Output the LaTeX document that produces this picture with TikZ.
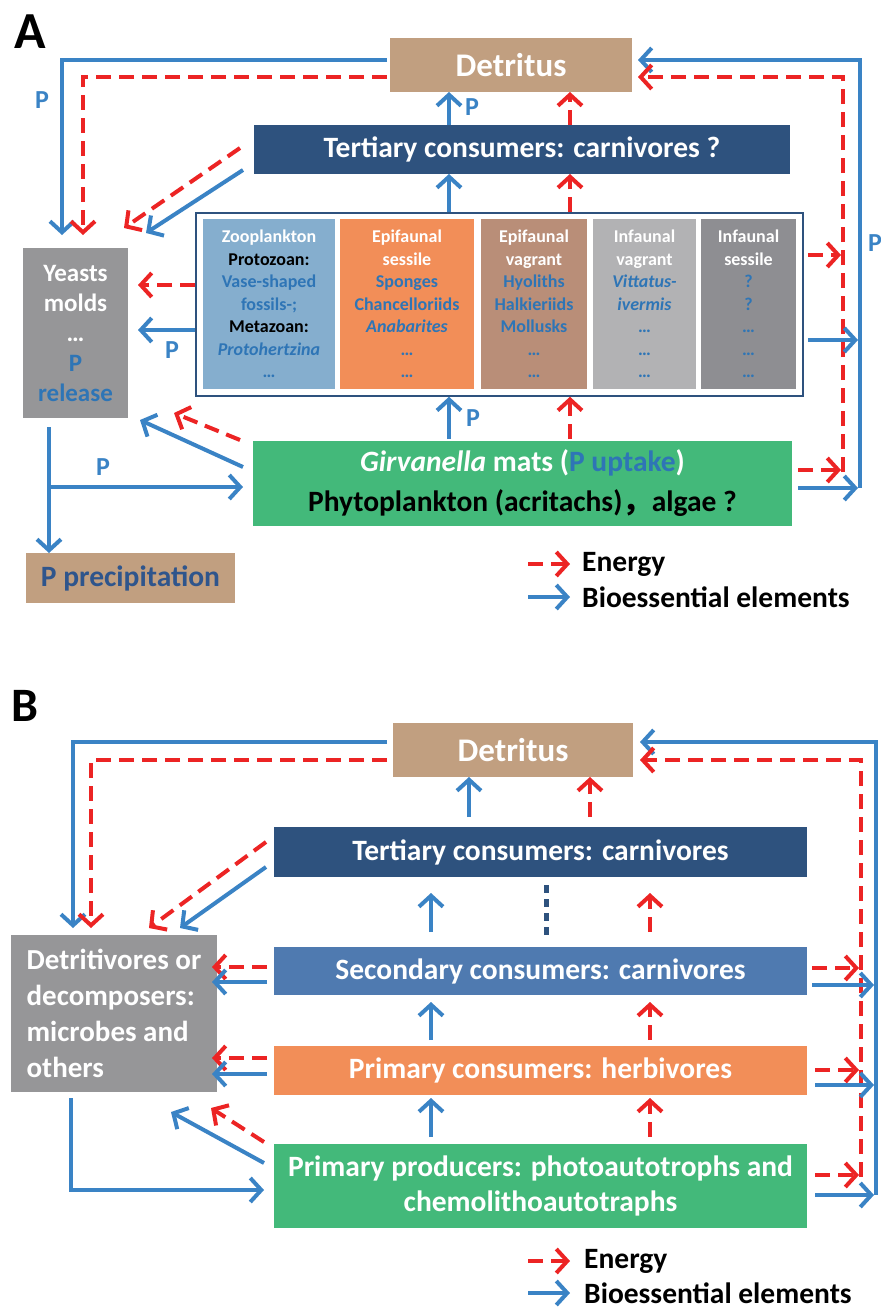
\documentclass[tikz,border=0pt]{standalone}
\usepackage{fontspec}
\setmainfont{Carlito}
\newfontfamily\cjkfont{Noto Sans CJK SC}
\usetikzlibrary{arrows.meta}
\definecolor{cBlue}{RGB}{58,131,197}
\definecolor{cRed}{RGB}{236,36,36}
\definecolor{cDet}{RGB}{193,159,128}
\definecolor{cTer}{RGB}{46,82,126}
\definecolor{cSec}{RGB}{79,122,176}
\definecolor{cGray}{RGB}{150,150,152}
\definecolor{cC1}{RGB}{133,174,206}
\definecolor{cC2}{RGB}{242,142,88}
\definecolor{cC3}{RGB}{185,142,120}
\definecolor{cC4}{RGB}{178,178,180}
\definecolor{cC5}{RGB}{142,142,146}
\definecolor{cGreen}{RGB}{67,185,122}
\definecolor{cTxt}{RGB}{46,117,182}
\definecolor{cPtxt}{RGB}{47,85,140}
\newcommand\fs[2]{\fontsize{#1pt}{#2pt}\selectfont\bfseries}
\begin{document}
\begin{tikzpicture}[x=1pt,y=-1pt,
  bx/.style={inner sep=0pt, outer sep=0pt, text=white, align=center},
  colbox/.style={bx, minimum height=170pt, font=\fs{18}{22.5}},
  bl/.style={draw=cBlue, line width=4pt, -{Straight Barb[length=11pt,width=24pt]}},
  rd/.style={draw=cRed, line width=4pt, dash pattern=on 15pt off 8pt, -{Straight Barb[length=11pt,width=24pt]}},
  lbl/.style={text=cBlue, font=\fs{26}{28}, inner sep=0pt},
  leg/.style={anchor=west, inner sep=0pt, font=\fs{29.5}{32}},
]
\useasboundingbox (0,0) rectangle (881,1310);

% ================= Panel A =================
\node[font=\fs{52}{56}, inner sep=0pt] (labA) at (30,32) {A};
\node[bx, fill=cDet, minimum width=242pt, minimum height=54pt, font=\fs{33}{38}] (detA) at (511,65) {Detritus};
\node[bx, fill=cTer, minimum width=536pt, minimum height=49pt, font=\fs{29.5}{32}] (terA) at (522,149.5) {Tertiary consumers: carnivores ?};
\node[draw=cTer, line width=1.5pt, fill=white, minimum width=607pt, minimum height=183pt, inner sep=0pt] (frA) at (499.5,304.5) {};
\node[colbox, fill=cC1, minimum width=132pt] (c1A) at (269,304) {Zooplankton\\\textcolor{black}{Protozoan:}\\\textcolor{cTxt}{Vase-shaped}\\\textcolor{cTxt}{fossils-;}\\\textcolor{black}{Metazoan:}\\\textcolor{cTxt}{\textit{Protohertzina}}\\\textcolor{cTxt}{…}};
\node[colbox, fill=cC2, minimum width=134pt] (c2A) at (407,304) {Epifaunal\\sessile\\\textcolor{cTxt}{Sponges}\\\textcolor{cTxt}{Chancelloriids}\\\textcolor{cTxt}{\textit{Anabarites}}\\\textcolor{cTxt}{…}\\\textcolor{cTxt}{…}};
\node[colbox, fill=cC3, minimum width=106pt] (c3A) at (534,304) {Epifaunal\\vagrant\\\textcolor{cTxt}{Hyoliths}\\\textcolor{cTxt}{Halkieriids}\\\textcolor{cTxt}{Mollusks}\\\textcolor{cTxt}{…}\\\textcolor{cTxt}{…}};
\node[colbox, fill=cC4, minimum width=103pt] (c4A) at (644.5,304) {Infaunal\\vagrant\\\textcolor{cTxt}{\textit{Vittatus-}}\\\textcolor{cTxt}{\textit{ivermis}}\\\textcolor{cTxt}{…}\\\textcolor{cTxt}{…}\\\textcolor{cTxt}{…}};
\node[colbox, fill=cC5, minimum width=95pt] (c5A) at (748.5,304) {Infaunal\\sessile\\\textcolor{cTxt}{?}\\\textcolor{cTxt}{?}\\\textcolor{cTxt}{…}\\\textcolor{cTxt}{…}\\\textcolor{cTxt}{…}};
\node[bx, fill=cGray, minimum width=105pt, minimum height=170pt, font=\fs{25}{30}] (yeA) at (75.5,333) {Yeasts\\molds\\…\\\textcolor{cTxt}{P}\\\textcolor{cTxt}{release}};
\node[bx, fill=cGreen, minimum width=539pt, minimum height=85pt, font=\fs{29.5}{40}] (grA) at (522.5,483) {\textit{Girvanella} mats (\textcolor{cTxt}{P uptake})\\\textcolor{black}{Phytoplankton (acritachs){\cjkfont ，}algae ?}};
\node[bx, fill=cDet, minimum width=209pt, minimum height=50pt, text=cPtxt, font=\fs{29.5}{32}] (ppA) at (130.5,578) {P precipitation};

% connectors A
\draw[bl] ([xshift=-3pt,yshift=5pt]detA.west) -| ([xshift=-13.5pt,yshift=13pt]yeA.north);
\draw[rd] ([xshift=-3pt,yshift=-12pt]detA.west) -| ([xshift=7.5pt,yshift=13pt]yeA.north);
\node[lbl] (pA1) at (42,100) {P};
\draw[rd] ([xshift=-14pt,yshift=1.5pt]terA.west) -- ([xshift=-4pt,yshift=20pt]yeA.north east);
\draw[bl] ([xshift=-11pt,yshift=-20.5pt]terA.west) -- ([xshift=18pt,yshift=15pt]yeA.north east);
\draw[bl] ([xshift=-73pt]terA.north) -- ([xshift=-62pt]detA.south);
\node[lbl] (pA2) at (472,107) {P};
\draw[rd] ([xshift=48pt]terA.north) -- ([xshift=59pt]detA.south);
\draw[bl] ([xshift=-50.5pt]frA.north) -- ([xshift=-73pt]terA.south);
\draw[rd] ([xshift=70.5pt]frA.north) -- ([xshift=48pt]terA.south);
\draw[bl] ([xshift=-73.5pt,yshift=1.5pt]grA.north) -- ([xshift=-50.5pt]frA.south);
\node[lbl] (pA3) at (473,418) {P};
\draw[rd] ([xshift=47.5pt,yshift=1.5pt]grA.north) -- ([xshift=70.5pt]frA.south);
\draw[rd] ([yshift=19.5pt]frA.west) -- ([xshift=10pt,yshift=48pt]yeA.east);
\draw[bl] ([yshift=-25.5pt]frA.west) -- ([xshift=10pt,yshift=3pt]yeA.east);
\node[lbl] (pA4) at (172,350) {P};
\draw[bl] ([xshift=-10pt,yshift=16pt]grA.west) -- ([xshift=12pt,yshift=-2pt]yeA.south east);
\draw[rd] ([xshift=-13pt,yshift=0.5pt]grA.north west) -- ([xshift=46pt,yshift=5pt]yeA.south east);
\coordinate (brA) at (49,487);
\draw[bl] ([xshift=-26.5pt,yshift=-9pt]yeA.south) -- ([xshift=-81.5pt]ppA.north);
\draw[bl] (brA) -- ([xshift=-10pt,yshift=-4pt]grA.west);
\node[lbl] (pA5) at (103,467) {P};
\coordinate (bBA) at (860,488);
\coordinate (bTA) at (860,60);
\coordinate (bMA) at (858,340);
\coordinate (rBA) at (843,472);
\coordinate (rTA) at (843,77);
\coordinate (rMA) at (841,255);
\coordinate (rGA) at (841,470);
\draw[bl] ([xshift=6pt,yshift=-5pt]grA.east) -- ([xshift=-2pt]bBA);
\draw[bl] (bBA) -- (bTA) -- ([xshift=6pt,yshift=5pt]detA.east);
\draw[rd] (rBA) -- (rTA) -- ([xshift=6pt,yshift=-12pt]detA.east);
\draw[rd] ([xshift=4pt,yshift=49.5pt]frA.east) -- (rMA);
\draw[bl] ([xshift=4pt,yshift=-35.5pt]frA.east) -- (bMA);
\draw[rd] ([xshift=6pt,yshift=13pt]grA.east) -- (rGA);
\node[lbl, anchor=west] (pA6) at (868,243) {P};
\node[leg] (legEA) at (582,564) {Energy};
\node[leg] (legBA) at (582,597) {Bioessential elements};
\draw[rd] ([xshift=-54pt]legEA.west) -- ([xshift=-12pt]legEA.west);
\draw[bl] ([xshift=-54pt]legBA.west) -- ([xshift=-12pt]legBA.west);

% ================= Panel B =================
\node[font=\fs{48}{52}, inner sep=0pt] (labB) at (25,706) {B};
\node[bx, fill=cDet, minimum width=240pt, minimum height=54pt, font=\fs{33}{38}] (detB) at (513,750) {Detritus};
\node[bx, fill=cTer, minimum width=533pt, minimum height=50pt, font=\fs{29.5}{32}] (terB) at (540.5,852) {Tertiary consumers: carnivores};
\node[bx, fill=cSec, minimum width=533pt, minimum height=48pt, font=\fs{29.5}{32}] (secB) at (540.5,971) {Secondary consumers: carnivores};
\node[bx, fill=cC2, minimum width=533pt, minimum height=49pt, font=\fs{29.5}{32}] (priB) at (540.5,1070.5) {Primary consumers: herbivores};
\node[bx, fill=cGreen, minimum width=533pt, minimum height=84pt, font=\fs{29.5}{35}] (proB) at (540.5,1186) {Primary producers: photoautotrophs and\\chemolithoautotraphs};
\node[bx, fill=cGray, align=left, minimum width=206pt, minimum height=157pt, font=\fs{29}{36}] (dcB) at (114,1013.5) {Detritivores or\\decomposers:\\microbes and\\others};

% connectors B
\draw[bl] ([xshift=-6pt,yshift=8pt]detB.west) -| ([xshift=-41pt,yshift=7pt]dcB.north);
\draw[rd] ([xshift=-6pt,yshift=-10pt]detB.west) -| ([xshift=-23pt,yshift=7pt]dcB.north);
\draw[rd] ([xshift=-8pt,yshift=10pt]terB.west) -- ([xshift=35pt,yshift=7pt]dcB.north);
\draw[bl] ([xshift=-8pt,yshift=-15pt]terB.west) -- ([xshift=66pt,yshift=7pt]dcB.north);
\draw[bl] ([xshift=-71.5pt,yshift=10pt]terB.north) -- ([xshift=-44pt]detB.south);
\draw[rd] ([xshift=49.5pt,yshift=10pt]terB.north) -- ([xshift=77pt]detB.south);
\draw[bl] ([xshift=-109.5pt,yshift=15pt]secB.north) -- ([xshift=-109.5pt,yshift=-16pt]terB.south);
\draw[rd] ([xshift=109.5pt,yshift=15pt]secB.north) -- ([xshift=109.5pt,yshift=-16pt]terB.south);
\draw[draw=cTer, line width=5pt, dash pattern=on 8pt off 6pt] ([xshift=5.5pt,yshift=-8pt]terB.south) -- ([xshift=5.5pt,yshift=9pt]secB.north);
\draw[bl] ([xshift=-109.5pt,yshift=6pt]priB.north) -- ([xshift=-109.5pt,yshift=-7pt]secB.south);
\draw[rd] ([xshift=109.5pt,yshift=6pt]priB.north) -- ([xshift=109.5pt,yshift=-7pt]secB.south);
\draw[bl] ([xshift=-109.5pt,yshift=7pt]proB.north) -- ([xshift=-109.5pt,yshift=-3pt]priB.south);
\draw[rd] ([xshift=109.5pt,yshift=7pt]proB.north) -- ([xshift=109.5pt,yshift=-3pt]priB.south);
\draw[rd] ([xshift=-7pt,yshift=4pt]secB.west) -- ([xshift=-5pt,yshift=46.5pt]dcB.east);
\draw[bl] ([xshift=-7pt,yshift=-11pt]secB.west) -- ([xshift=-5pt,yshift=31.5pt]dcB.east);
\draw[rd] ([xshift=-7pt,yshift=12.5pt]priB.west) -- ([xshift=-5pt,yshift=-44.5pt]dcB.east);
\draw[bl] ([xshift=-7pt,yshift=-3.5pt]priB.west) -- ([xshift=-5pt,yshift=-60.5pt]dcB.east);
\draw[bl] ([xshift=-10pt,yshift=-19pt]proB.north west) -- ([xshift=-46pt,yshift=-20pt]dcB.south east);
\draw[rd] ([xshift=-10pt,yshift=2pt]proB.north west) -- ([xshift=-6pt,yshift=-16pt]dcB.south east);
\draw[bl] ([xshift=-43pt,yshift=-6pt]dcB.south) |- ([xshift=-10pt,yshift=-4pt]proB.west);
\coordinate (bBB) at (876,1195);
\coordinate (bTB) at (876,742);
\coordinate (rBB) at (861,1177);
\coordinate (rTB) at (861,760);
\coordinate (rSB) at (859,968);
\coordinate (bSB) at (874,985);
\coordinate (rPB) at (859,1070);
\coordinate (bPB) at (874,1085);
\coordinate (rRB) at (859,1175);
\draw[bl] ([xshift=8pt,yshift=-9pt]proB.east) -- ([xshift=-2pt]bBB);
\draw[bl] (bBB) -- (bTB) -- ([xshift=7pt,yshift=8pt]detB.east);
\draw[rd] (rBB) -- (rTB) -- ([xshift=7pt,yshift=-10pt]detB.east);
\draw[rd] ([xshift=5pt,yshift=3pt]secB.east) -- (rSB);
\draw[bl] ([xshift=5pt,yshift=-14pt]secB.east) -- (bSB);
\draw[rd] ([xshift=8pt,yshift=0.5pt]priB.east) -- (rPB);
\draw[bl] ([xshift=8pt,yshift=-14.5pt]priB.east) -- (bPB);
\draw[rd] ([xshift=8pt,yshift=11pt]proB.east) -- (rRB);
\node[leg] (legEB) at (584,1261) {Energy};
\node[leg] (legBB) at (584,1293) {Bioessential elements};
\draw[rd] ([xshift=-56pt]legEB.west) -- ([xshift=-14pt]legEB.west);
\draw[bl] ([xshift=-56pt]legBB.west) -- ([xshift=-14pt]legBB.west);
\end{tikzpicture}
\end{document}
